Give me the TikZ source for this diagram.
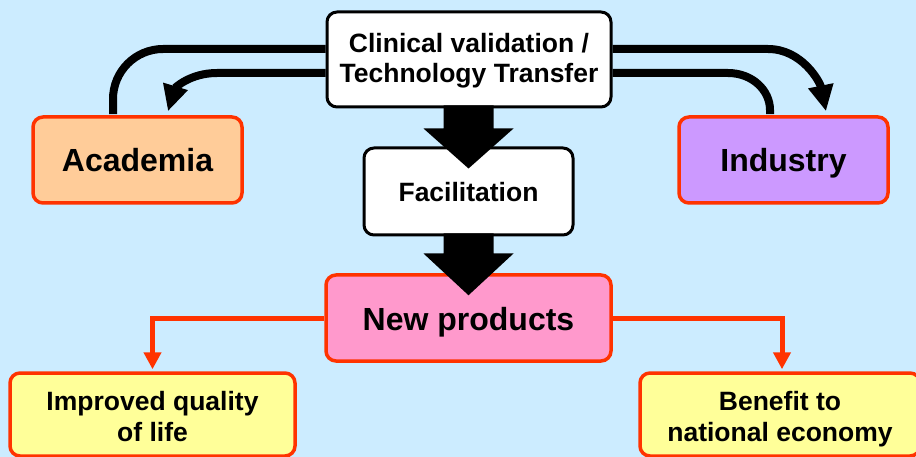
\documentclass[tikz,border=0pt]{standalone}
\usepackage{fontspec}
\setmainfont{Liberation Sans}
\usetikzlibrary{arrows.meta,calc}
\definecolor{bg}{HTML}{CCECFF}
\definecolor{rd}{HTML}{FF3300}
\definecolor{peach}{HTML}{FFCC99}
\definecolor{lilac}{HTML}{CC99FF}
\definecolor{pinkf}{HTML}{FF99CC}
\definecolor{yel}{HTML}{FFFF99}
\begin{document}
\begin{tikzpicture}[x=1pt,y=-1pt,
  box/.style={rounded corners=10pt, line width=3pt, draw=black, fill=white, align=center, inner sep=0pt},
  redbox/.style={box, draw=rd, line width=3.5pt},
  bigtext/.style={font=\fontsize{32}{36}\selectfont\bfseries, text height=24pt, text depth=0pt},
  midtext/.style={font=\fontsize{26.5}{30.5}\selectfont\bfseries},
  blackline/.style={line width=8pt, draw=black},
  blackarrow/.style={blackline, -{Triangle[width=24pt,length=26pt]}},
  redline/.style={line width=5pt, draw=rd, -{Triangle[width=17pt,length=17pt]}},
  blockarrow/.style={fill=black}]
\fill[bg] (0,0) rectangle (916,457);
\useasboundingbox (0,0) rectangle (916,457);

\node[box, midtext, text height=47pt, text depth=0pt, minimum width=284pt, minimum height=95pt] (clin) at (469,59.5) {Clinical validation /\\Technology Transfer};
\node[redbox, bigtext, fill=peach, minimum width=209pt, minimum height=86pt] (acad) at (137.5,160) {Academia};
\node[redbox, bigtext, fill=lilac, minimum width=209pt, minimum height=86pt] (ind) at (783.5,160) {Industry};
\node[box, midtext, text height=21pt, text depth=0pt, minimum width=209pt, minimum height=87pt] (fac) at (468.5,191.5) {Facilitation};
\node[redbox, bigtext, fill=pinkf, minimum width=285pt, minimum height=86pt] (np) at (468.5,318) {New products};
\node[redbox, midtext, text height=53pt, text depth=0pt, fill=yel, minimum width=285pt, minimum height=83pt] (imp) at (152.5,414.5) {Improved quality\\of life};
\node[redbox, midtext, text height=53pt, text depth=0pt, fill=yel, minimum width=280pt, minimum height=83pt] (ben) at (780,414.5) {Benefit to\\national economy};

% block arrows
\fill[blockarrow] ($(clin.south)+(-25.5,-3)$) -- ++(50,0) -- ++(0,23) -- ++(20,0)
  -- ($(fac.north)+(0,22)$) -- ($(clin.south)+(-45.5,20)$) -- ++(20,0) -- cycle;
\fill[blockarrow] ($(fac.south)+(-25,-3)$) -- ++(50,0) -- ++(0,20) -- ++(20,0)
  -- ($(np.north)+(0,22)$) -- ($(fac.south)+(-45,17)$) -- ++(20,0) -- cycle;

% black curved connectors
\coordinate (aL) at ($(acad.north)+(-24.5,-1)$);
\coordinate (aT) at ($(acad.north)+(30.5,-4)$);
\coordinate (iL) at ($(ind.north)+(-13.5,-1)$);
\coordinate (iT) at ($(ind.north)+(42.5,-4)$);
\coordinate (cW1) at ($(clin.west)+(0,-10.5)$);
\coordinate (cW2) at ($(clin.west)+(0,13.5)$);
\coordinate (cE1) at ($(clin.east)+(0,-10.5)$);
\coordinate (cE2) at ($(clin.east)+(0,13.5)$);

\draw[blackline] (aL) -- (113,99) .. controls (113,71.4) and (135.4,49) .. (163,49) -- (cW1);
\draw[blackarrow] (cW2) -- (217,73) .. controls (190,73) and (175,88) .. (aT);
\draw[blackarrow] (cE1) -- (768,49) .. controls (802,49) and (820,82) .. (iT);
\draw[blackline] (cE2) -- (728,73) .. controls (752,73) and (770,90) .. (770,110) -- (iL);

% red connectors
\draw[redline] (np.west) -| ($(imp.north)+(0,-2)$);
\draw[redline] (np.east) -| ($(ben.north)+(2,-2)$);
\end{tikzpicture}
\end{document}
